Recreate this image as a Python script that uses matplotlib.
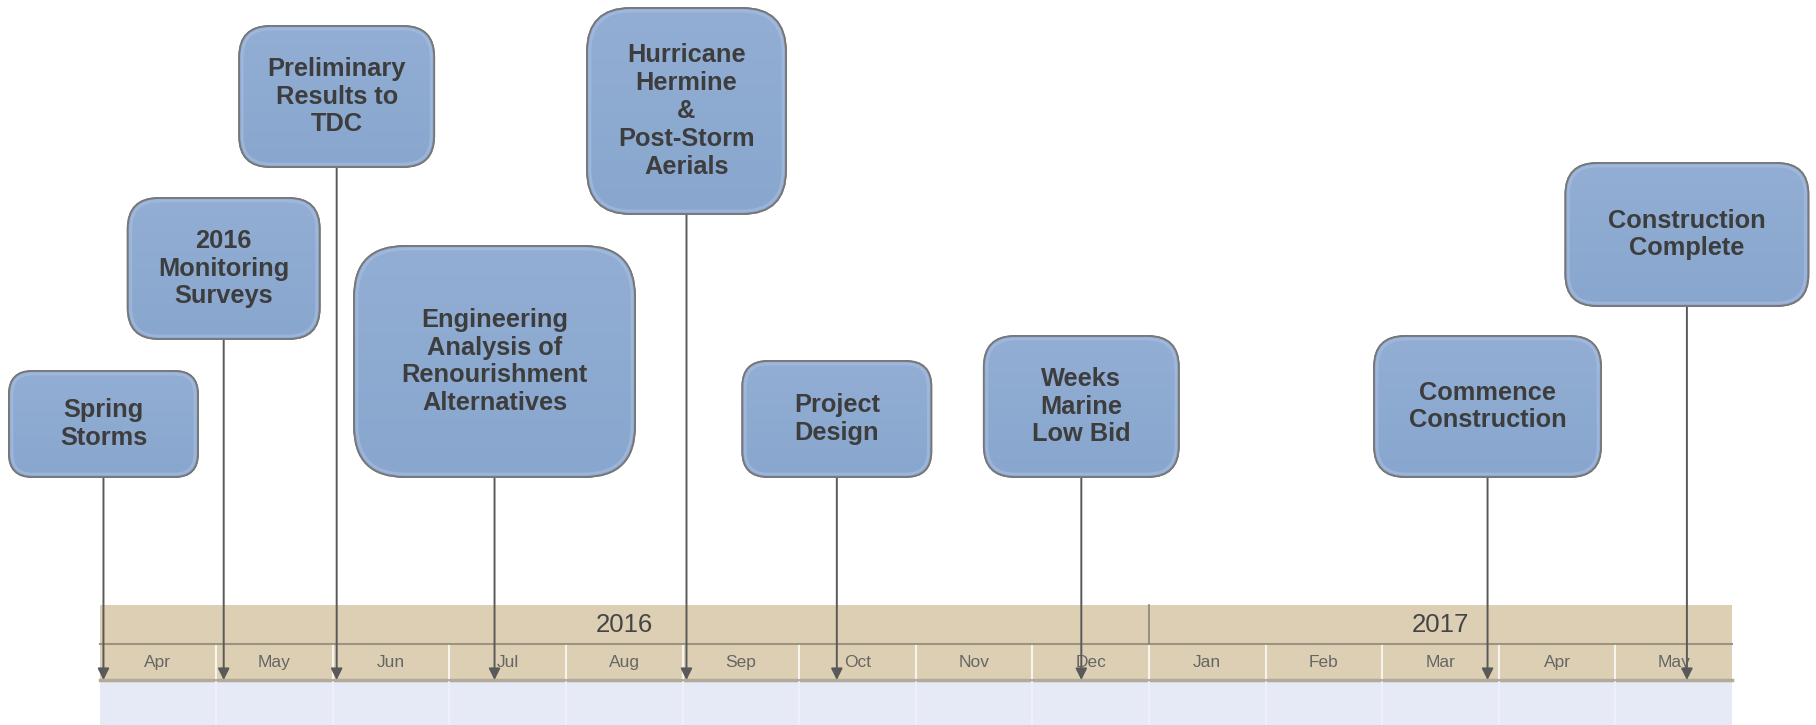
import calendar
import datetime

import numpy as np
import matplotlib
matplotlib.use("Agg")
import matplotlib.pyplot as plt
from matplotlib.patches import FancyBboxPatch, Rectangle
from matplotlib.colors import LinearSegmentedColormap

plt.rcParams['font.family'] = ['Liberation Sans', 'DejaVu Sans']

# ---- data ----
events = ["Spring\nStorms",
          "2016\nMonitoring\nSurveys",
          "Preliminary\nResults to\nTDC",
          "Engineering\nAnalysis of\nRenourishment\nAlternatives",
          "Hurricane\nHermine\n&\nPost-Storm\nAerials",
          "Project\nDesign",
          "Weeks\nMarine\nLow Bid",
          "Commence\nConstruction",
          "Construction\nComplete"]
event_dates = ["2016-04-02", "2016-05-03", "2016-06-02", "2016-07-13", "2016-09-02",
               "2016-10-11", "2016-12-14", "2017-03-29", "2017-05-20"]
month_labels = ["Apr", "May", "Jun", "Jul", "Aug", "Sep", "Oct", "Nov", "Dec",
                "Jan", "Feb", "Mar", "Apr", "May"]
years = ["2016", "2017"]
months_in_year = [9, 5]

# ---- layout (pixels) ----
box_top = [371, 198, 26, 246, 8, 361, 336, 336, 163]
box_bottom = [477, 339, 167, 477, 214, 477, 477, 477, 306]
box_width = [189, 192, 195, 281, 199, 189, 195, 227, 243]

W, H = 1816, 725
band_top, year_bot, month_bot = 605, 644, 681
start = datetime.date(2016, 4, 1)


def month_pos(s):
    d = datetime.date.fromisoformat(s)
    k = (d.year - start.year) * 12 + d.month - start.month
    return k + (d.day - 1) / calendar.monthrange(d.year, d.month)[1]


fig = plt.figure(figsize=(W / 100, H / 100), dpi=100)
ax = fig.add_axes([0, 0, 1, 1])
ax.set_xlim(-0.854, 14.72)
ax.set_ylim(H, 0)
ax.axis('off')
lay = fig.add_axes([0, 0, 1, 1], zorder=3)
lay.set_xlim(0, W)
lay.set_ylim(H, 0)
lay.axis('off')
lay.patch.set_alpha(0)

n_months = len(month_labels)

# timeline band
ax.add_patch(Rectangle((0, band_top), n_months, year_bot - band_top, fc='#DDCFB3', ec='none', zorder=1))
ax.add_patch(Rectangle((0, year_bot), n_months, month_bot - year_bot, fc='#DDCFB3', ec='none', zorder=1))
ax.add_patch(Rectangle((0, month_bot), n_months, H - month_bot + 2, fc='#E6E9F6', ec='none', zorder=1))
ax.plot([0, n_months], [year_bot, year_bot], color='#9c9482', lw=1.5, zorder=2)
ax.plot([0, n_months], [month_bot - 1, month_bot - 1], color='#b2ab9c', lw=2.5, zorder=2)

for i in range(1, n_months):
    ax.plot([i, i], [year_bot + 2, month_bot - 3], color='#f7f4ee', lw=1.5, zorder=2)
    ax.plot([i, i], [month_bot + 1, H], color='#f0f1f8', lw=1.2, zorder=2)

for i, lab in enumerate(month_labels):
    ax.text(i + 0.5, (year_bot + month_bot) / 2, lab, ha='center', va='center',
            fontsize=12.5, color='#666666', zorder=2)

x0 = 0
for y, n in zip(years, months_in_year):
    if x0 > 0:
        ax.plot([x0, x0], [band_top, year_bot], color='#8a8478', lw=1.2, zorder=2)
    ax.text(x0 + n / 2, (band_top + year_bot) / 2 + 1, y, ha='center', va='center',
            fontsize=18.5, color='#454545', zorder=2)
    x0 += n

# arrows and boxes
cmap = LinearSegmentedColormap.from_list('box', ['#93AED5', '#8DAAD1', '#89A6CE'])
for lab, d, top, bot, w in zip(events, event_dates, box_top, box_bottom, box_width):
    m = month_pos(d)
    ax.annotate('', xy=(m, month_bot - 1), xytext=(m, bot),
                arrowprops=dict(arrowstyle='-|>', color='#595959', lw=1.4,
                                mutation_scale=17, shrinkA=0, shrinkB=0), zorder=3)
    cx = ax.transData.transform((m, 0))[0]
    h = bot - top
    r = 0.22 * min(w, h)
    box = FancyBboxPatch((cx - w / 2, top), w, h,
                         boxstyle='round,pad=0,rounding_size=%.1f' % r,
                         fc='#8DA9D0', ec='#777777', lw=1.3, zorder=4)
    lay.add_patch(box)
    grad = np.linspace(0, 1, 64).reshape(-1, 1)
    im = lay.imshow(grad, cmap=cmap, extent=(cx - w / 2, cx + w / 2, bot, top),
                    aspect='auto', zorder=4.5)
    im.set_clip_path(box)
    inner = FancyBboxPatch((cx - w / 2 + 3, top + 3), w - 6, h - 6,
                           boxstyle='round,pad=0,rounding_size=%.1f' % (r - 3),
                           fc='none', ec='#a9bfe0', lw=2, alpha=0.6, zorder=4.7)
    lay.add_patch(inner)
    edge = FancyBboxPatch((cx - w / 2, top), w, h,
                          boxstyle='round,pad=0,rounding_size=%.1f' % r,
                          fc='none', ec='#777777', lw=1.3, zorder=4.8)
    lay.add_patch(edge)
    lay.text(cx, (top + bot) / 2, lab, ha='center', va='center', fontsize=18.3,
             fontweight='bold', color='#3d3d3d', zorder=5)

lay.set_xlim(0, W)
lay.set_ylim(H, 0)

fig.savefig('out.png', dpi=100)
